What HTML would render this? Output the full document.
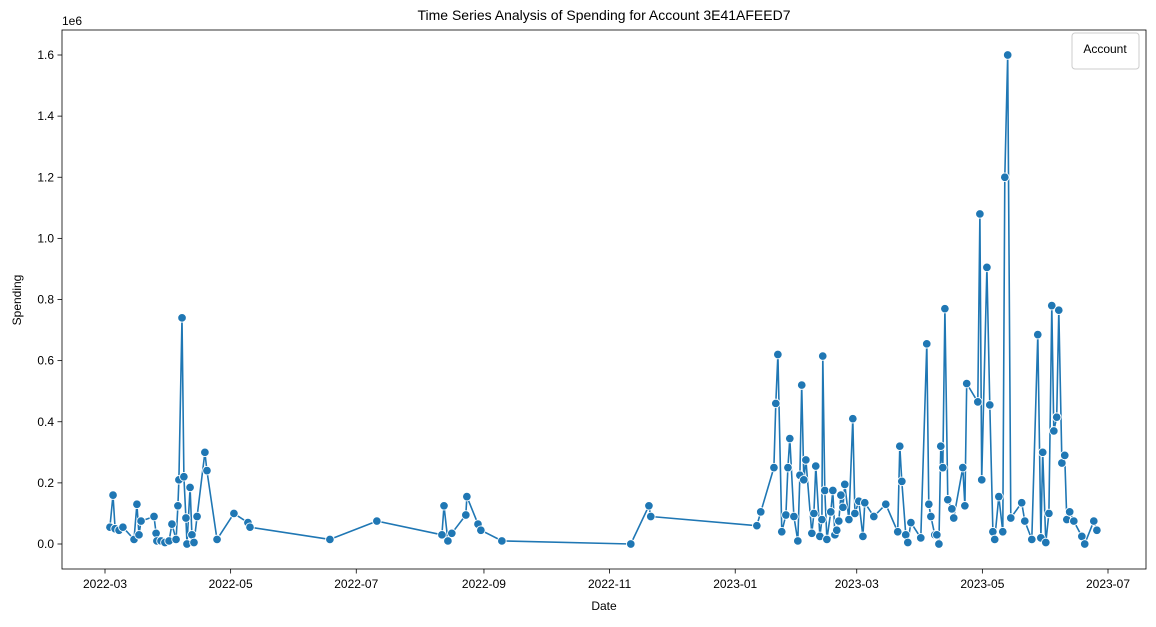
<!DOCTYPE html>
<html><head><meta charset="utf-8"><style>
body{margin:0;background:#fff;font-family:"Liberation Sans",sans-serif}
svg text{font-family:"Liberation Sans",sans-serif;fill:#000}
</style></head><body>
<svg id="chart" width="1156" height="622" xmlns="http://www.w3.org/2000/svg">
<rect width="1156" height="622" fill="#fff"/>
<text x="604" y="20" font-size="14" text-anchor="middle">Time Series Analysis of Spending for Account 3E41AFEED7</text>
<g id="axes"></g>
<g id="series"></g>
<rect x="62" y="30" width="1084" height="539" fill="none" stroke="#000" stroke-width="0.8"/>
<text x="62" y="25" font-size="12">1e6</text>
<text transform="translate(21,300) rotate(-90)" font-size="12" text-anchor="middle">Spending</text>
<text x="604" y="610" font-size="12" text-anchor="middle">Date</text>
<g>
<rect x="1072" y="33" width="67" height="36" rx="3" fill="#fff" stroke="#ccc"/>
<text x="1105" y="53" font-size="12" text-anchor="middle">Account</text>
</g>
</svg>
<script>
// days since 2022-03-01
const days=[2.4,3.9,4.9,6.8,8.7,14.1,15.5,16.5,17.5,23.8,24.8,25.2,27.2,29.1,31.1,32.5,34.5,35.4,35.9,37.4,38.3,39.3,39.8,41.3,42.2,43.2,44.7,48.5,49.5,54.4,62.6,69.4,70.4,109.2,132,163.6,164.6,166.5,168.4,175.2,175.7,181.1,182.5,192.7,255.3,264.1,265,316.5,318.4,324.8,325.7,326.7,328.6,330.6,331.6,332.5,334.5,336.4,337.4,338.3,339.3,340.3,343.2,344.2,345.1,347.1,348.1,348.5,349.5,350.5,352.4,353.4,354.4,355.3,356.3,357.3,358.3,359.2,361.2,363.1,364.1,366,368,368.9,373.3,379.1,384.9,385.9,386.9,388.8,389.8,391.3,396.1,399,400,401,402.9,403.9,404.9,405.8,406.8,407.8,409.2,411.2,412.1,416.5,417.5,418.4,423.8,424.8,425.7,428.2,429.6,431.1,432,434,435.9,436.9,438.3,439.8,445.1,446.6,450,452.9,454.4,455.3,456.8,458.3,459.7,460.7,462.1,463.1,464.6,466,467,468.4,470.4,474.3,475.7,480.1,481.6];
// spending in millions
const spending=[0.055,0.16,0.05,0.045,0.055,0.015,0.13,0.03,0.075,0.09,0.035,0.01,0.01,0.005,0.01,0.065,0.015,0.125,0.21,0.74,0.22,0.085,0.0,0.185,0.03,0.005,0.09,0.30,0.24,0.015,0.1,0.07,0.055,0.015,0.075,0.03,0.125,0.01,0.035,0.095,0.155,0.065,0.045,0.01,0.0,0.125,0.09,0.06,0.105,0.25,0.46,0.62,0.04,0.095,0.25,0.345,0.09,0.01,0.225,0.52,0.21,0.275,0.035,0.1,0.255,0.025,0.08,0.615,0.175,0.015,0.105,0.175,0.03,0.045,0.075,0.16,0.12,0.195,0.08,0.41,0.1,0.14,0.025,0.135,0.09,0.13,0.04,0.32,0.205,0.03,0.005,0.07,0.02,0.655,0.13,0.09,0.03,0.03,0.0,0.32,0.25,0.77,0.145,0.115,0.085,0.25,0.125,0.525,0.465,1.08,0.21,0.905,0.455,0.04,0.015,0.155,0.04,1.2,1.6,0.085,0.135,0.075,0.015,0.685,0.02,0.3,0.005,0.1,0.78,0.37,0.415,0.765,0.265,0.29,0.08,0.105,0.075,0.025,0.0,0.075,0.045];
const xTickLabels=["2022-03","2022-05","2022-07","2022-09","2022-11","2023-01","2023-03","2023-05","2023-07"];
const xTickDays=[0,61,122,184,245,306,365,426,487];
const yTicks=[0,0.2,0.4,0.6,0.8,1.0,1.2,1.4,1.6];
const NS="http://www.w3.org/2000/svg";
function xs(d){return 105+d*(1003/487);}
function ys(v){return 544-v*(489/1.6);}
function mk(t,a,p){const e=document.createElementNS(NS,t);for(const k in a)e.setAttribute(k,a[k]);p.appendChild(e);return e;}
const ax=document.getElementById('axes');
xTickDays.forEach((d,i)=>{
 const l=mk('line',{x1:xs(d),x2:xs(d),y1:569,y2:573.5,stroke:'#000','stroke-width':0.8},ax);
 
 
 const t=mk('text',{x:xs(d),y:588,'font-size':12,'text-anchor':'middle'},ax);t.textContent=xTickLabels[i];
 
 
});
yTicks.forEach(v=>{
 const l=mk('line',{x1:57.5,x2:62,y1:ys(v),y2:ys(v),stroke:'#000','stroke-width':0.8},ax);
 
 
 const t=mk('text',{x:54,y:ys(v)+4,'font-size':12,'text-anchor':'end'},ax);t.textContent=v.toFixed(1);
 
 
});
const g=document.getElementById('series');
const pts=days.map((d,i)=>xs(d).toFixed(1)+','+ys(spending[i]).toFixed(1)).join(' ');
const pl=mk('polyline',{points:pts,fill:'none',stroke:'#1f77b4','stroke-width':1.6,'stroke-linejoin':'round'},g);


days.forEach((d,i)=>{
 const c=mk('circle',{cx:xs(d),cy:ys(spending[i]),r:4.3,fill:'#1f77b4',stroke:'#fff','stroke-width':0.9},g);
 
 
});
</script>
</body></html>
